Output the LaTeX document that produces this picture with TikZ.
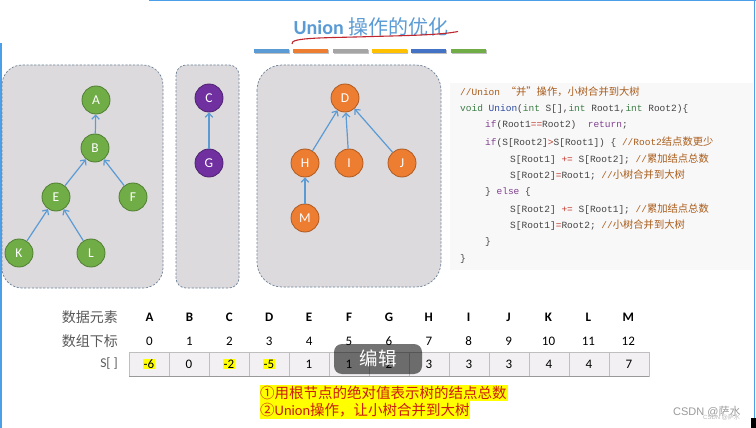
\documentclass[tikz,border=0pt]{standalone}
\usepackage{fontspec}
\setmainfont{Carlito}
\setmonofont{Liberation Mono}
\newfontfamily\cjk{Noto Sans CJK SC}
\newfontfamily\arialf{Liberation Sans}
\usetikzlibrary{arrows.meta}
\definecolor{frameblue}{HTML}{4A9FE8}
\definecolor{titleblue}{HTML}{5B9BD5}
\definecolor{ulred}{HTML}{C0272D}
\definecolor{barA}{HTML}{5B9BD5}
\definecolor{barB}{HTML}{ED7D31}
\definecolor{barC}{HTML}{A5A5A5}
\definecolor{barD}{HTML}{FFC000}
\definecolor{barE}{HTML}{4472C4}
\definecolor{barF}{HTML}{70AD47}
\definecolor{panelfill}{HTML}{DCDADD}
\definecolor{paneldraw}{HTML}{6F8399}
\definecolor{ngreen}{HTML}{70AD47}
\definecolor{ngreenD}{HTML}{507E32}
\definecolor{npurple}{HTML}{7030A0}
\definecolor{npurpleD}{HTML}{4E2270}
\definecolor{norange}{HTML}{ED7D31}
\definecolor{norangeD}{HTML}{AE5A21}
\definecolor{edgeblue}{HTML}{5B9BD5}
\definecolor{codebg}{HTML}{F9F8F9}
\definecolor{codetxt}{HTML}{444444}
\definecolor{kwpurple}{HTML}{80408F}
\definecolor{tygreen}{HTML}{3A7D44}
\definecolor{fnblue}{HTML}{2B4BA0}
\definecolor{opred}{HTML}{C0392B}
\definecolor{cmbrown}{HTML}{A85C1A}
\definecolor{labgray}{HTML}{595959}
\definecolor{cellfill}{HTML}{F2F0F2}
\definecolor{celldraw}{HTML}{BFBFBF}
\definecolor{hlyellow}{HTML}{FFFF00}
\definecolor{notered}{HTML}{CC1A0D}
\definecolor{wmgray}{HTML}{9A9A9A}
\newcommand\ckw[1]{\textcolor{kwpurple}{#1}}
\newcommand\cty[1]{\textcolor{tygreen}{#1}}
\newcommand\cfn[1]{\textcolor{fnblue}{#1}}
\newcommand\cop[1]{\textcolor{opred}{#1}}
\newcommand\ccm[1]{\textcolor{cmbrown}{#1}}
\newcommand\ccj[1]{{\cjk\fontsize{10.3}{10.3}\selectfont #1}}
\begin{document}
\begin{tikzpicture}[x=1pt,y=-1pt,
  panel/.style={fill=panelfill,draw=paneldraw,dash pattern=on 2.2pt off 1.6pt,line width=0.7pt},
  tnode/.style={circle,minimum size=28pt,inner sep=0pt,line width=0.8pt,text=white,font=\fontsize{13.5}{13.5}\selectfont},
  gnode/.style={tnode,fill=ngreen,draw=ngreenD},
  pnode/.style={tnode,fill=npurple,draw=npurpleD},
  onode/.style={tnode,fill=norange,draw=norangeD},
  tedge/.style={draw=edgeblue,line width=1.2pt,-{Straight Barb[length=4pt,width=7.5pt,line width=1.2pt]}},
  codeline/.style={anchor=west,inner sep=0pt,text=codetxt,font=\ttfamily\fontsize{9.5}{9.5}\selectfont},
  hdr/.style={font=\bfseries\fontsize{13}{13}\selectfont,text=black,inner sep=0pt},
  idx/.style={font=\fontsize{13}{13}\selectfont,text=black,inner sep=0pt},
  val/.style={font=\fontsize{13}{13}\selectfont,text=black,inner sep=0.8pt},
  rowlab/.style={font=\cjk\fontsize{14}{14}\selectfont,text=labgray,inner sep=0pt,anchor=east},
  cell/.style={fill=cellfill,draw=celldraw,line width=0.6pt}
]
\useasboundingbox (0,0) rectangle (756,428);
\fill[white] (0,0) rectangle (756,428);

% frame lines
\draw[frameblue,line width=1.5pt] (149,0.75) -- (756,0.75);
\draw[frameblue,line width=1.5pt] (754.5,0) -- (754.5,420);
\draw[frameblue,line width=1.5pt] (0.75,43) -- (0.75,428);
\fill[black] (751,418) rectangle (756,428);

% title
\node[inner sep=0pt,text=titleblue] (title) at (371,27)
  {\bfseries\fontsize{20}{20}\selectfont Union {\cjk\mdseries 操作的优化}};
\draw[ulred,line width=1.1pt] (292,44) .. controls (289,37) and (330,38) .. (372,36.5) .. controls (410,35.5) and (440,35) .. (458,31.5);

% colour bars
\foreach \xa/\col in {254/barA,293/barB,333/barC,372/barD,411/barE,451/barF}{
  \fill[black!25] (\xa+0.5,50) rectangle (\xa+35.5,54);
  \fill[\col] (\xa,49) rectangle (\xa+35,53);
}

% panels
\draw[panel,rounded corners=20pt] (2,65) rectangle (163,288);
\draw[panel,rounded corners=10pt] (176,65) rectangle (239,288);
\draw[panel,rounded corners=25pt] (257,65) rectangle (441,287);

% tree 1
\node[gnode] (A) at (96,100) {A};
\node[gnode] (B) at (95,148) {B};
\node[gnode] (E) at (56,197) {E};
\node[gnode] (F) at (133,197) {F};
\node[gnode] (K) at (19,253) {K};
\node[gnode] (L) at (91,253) {L};
% tree 2
\node[pnode] (C) at (209,98) {C};
\node[pnode] (G) at (209,163) {G};
% tree 3
\node[onode] (D) at (345,98) {D};
\node[onode] (H) at (305,163) {H};
\node[onode] (I) at (349,163) {I};
\node[onode] (J) at (402,163) {J};
\node[onode] (M) at (305,218) {M};

\draw[tedge] (B) -- (A);
\draw[tedge] (E) -- (B);
\draw[tedge] (F) -- (B);
\draw[tedge] (K) -- (E);
\draw[tedge] (L) -- (E);
\draw[tedge] (G) -- (C);
\draw[tedge] (H) -- (D);
\draw[tedge] (I) -- (D);
\draw[tedge] (J) -- (D);
\draw[tedge] (M) -- (H);

% code box
\fill[codebg] (450,83) rectangle (753,270);
\node[codeline] (c1) at (460,92) {\ccm{//Union \ccj{“并”操作，小树合并到大树}}};
\node[codeline] (c2) at (460,108.7) {\cty{void} \cfn{Union}(\cty{int} S[],\cty{int} Root1,\cty{int} Root2)\{};
\node[codeline] (c3) at (485,125.4) {\ckw{if}(Root1\cop{==}Root2)~~\ckw{return};};
\node[codeline] (c4) at (485,142.1) {\ckw{if}(S[Root2]\cop{>}S[Root1]) \{ \ccm{//Root2\ccj{结点数更少}}};
\node[codeline] (c5) at (510,158.8) {S[Root1] \cop{+=} S[Root2]; \ccm{//\ccj{累加结点总数}}};
\node[codeline] (c6) at (510,175.5) {S[Root2]\cop{=}Root1; \ccm{//\ccj{小树合并到大树}}};
\node[codeline] (c7) at (485,192.2) {\} \ckw{else} \{};
\node[codeline] (c8) at (510,208.9) {S[Root2] \cop{+=} S[Root1]; \ccm{//\ccj{累加结点总数}}};
\node[codeline] (c9) at (510,225.6) {S[Root1]\cop{=}Root2; \ccm{//\ccj{小树合并到大树}}};
\node[codeline] (c10) at (485,242.3) {\}};
\node[codeline] (c11) at (460,259) {\}};

% table labels
\node[rowlab] (l1) at (118,317) {数据元素};
\node[rowlab] (l2) at (118,341) {数组下标};
\node[rowlab,font=\fontsize{13.5}{13.5}\selectfont] (l3) at (118,364) {S[ ]};

% table cells
\foreach \i in {0,...,12}{
  \draw[cell] (129+40*\i,352) rectangle (169+40*\i,376);
}
\draw[celldraw!80!black,line width=1pt] (129,376) -- (649,376);

\foreach \i/\lab in {0/A,1/B,2/C,3/D,4/E,5/F,6/G,7/H,8/I,9/J,10/K,11/L,12/M}{
  \node[hdr] (h\i) at (149.5+39.9*\i,317) {\lab};
  \node[idx] (n\i) at (149.5+39.9*\i,341) {\i};
}
\foreach \i/\v in {1/0,4/1,5/1,6/2,7/3,8/3,9/3,10/4,11/4,12/7}{
  \node[val] (v\i) at (149+40*\i,364) {\v};
}
\foreach \i/\v in {0/-6,2/-2,3/-5}{
  \node[val,fill=hlyellow] (v\i) at (149+40*\i,364) {\v};
}

% overlay
\fill[black,opacity=0.55,rounded corners=8pt] (334,344) rectangle (422,374);
\node[inner sep=0pt,text=white,font=\cjk\fontsize{18.5}{18.5}\selectfont] (edit) at (378,358) {编辑};

% notes
\fill[hlyellow] (260,385) rectangle (508,400.5);
\fill[hlyellow] (260,400.5) rectangle (470,419);
\node[anchor=west,inner sep=0pt,text=notered,font=\cjk\fontsize{14.5}{14.5}\selectfont] (note1) at (260,392.5) {①用根节点的绝对值表示树的结点总数};
\node[anchor=west,inner sep=0pt,text=notered,font=\cjk\fontsize{14.5}{14.5}\selectfont] (note2) at (260,410) {②{\rmfamily Union}操作，让小树合并到大树};

% watermark
\node[anchor=west,inner sep=0pt,text=wmgray,font=\arialf\fontsize{11}{11}\selectfont] (wm) at (673,412) {CSDN @{\cjk 萨水}};
\node[anchor=west,inner sep=0pt,text=wmgray!70,font=\arialf\fontsize{6}{6}\selectfont] (wm2) at (703,417) {CSDN @{\cjk 萨水}};
\end{tikzpicture}
\end{document}
